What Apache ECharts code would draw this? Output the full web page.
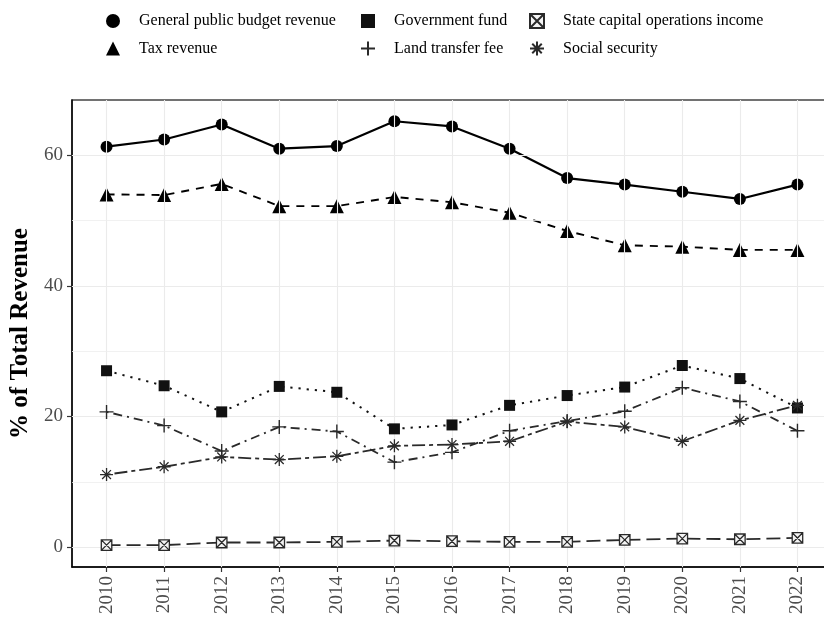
<!DOCTYPE html>
<html>
<head>
<meta charset="utf-8">
<script src="https://cdn.jsdelivr.net/npm/echarts@6/dist/echarts.min.js"></script>
<style>
html,body{margin:0;padding:0;background:#fff;}
#chart{width:824px;height:617px;}
</style>
</head>
<body>
<div id="chart"></div>
<script>
// ---- data ----
const years = [2010, 2011, 2012, 2013, 2014, 2015, 2016, 2017, 2018, 2019, 2020, 2021, 2022];
const generalBudget   = [61.3, 62.4, 64.7, 61.0, 61.4, 65.2, 64.4, 61.0, 56.5, 55.5, 54.4, 53.3, 55.5];
const taxRevenue      = [54.0, 53.9, 55.6, 52.2, 52.2, 53.6, 52.8, 51.2, 48.4, 46.2, 46.0, 45.5, 45.5];
const governmentFund  = [27.0, 24.7, 20.7, 24.6, 23.7, 18.1, 18.7, 21.7, 23.2, 24.5, 27.8, 25.8, 21.3];
const landTransferFee = [20.7, 18.6, 14.7, 18.4, 17.7, 13.0, 14.5, 17.8, 19.3, 20.8, 24.4, 22.3, 17.8];
const stateCapital    = [0.3, 0.3, 0.7, 0.7, 0.8, 1.0, 0.9, 0.8, 0.8, 1.1, 1.3, 1.2, 1.4];
const socialSecurity  = [11.1, 12.3, 13.8, 13.4, 13.9, 15.5, 15.7, 16.2, 19.2, 18.4, 16.2, 19.4, 21.7];
const yTickValues = [0, 20, 40, 60];
const yMinorValues = [10, 30, 50];
const seriesNames = ['General public budget revenue', 'Tax revenue', 'Government fund',
  'Land transfer fee', 'State capital operations income', 'Social security'];

const PLUS = 'path://M5,0L5,10M0,5L10,5';
const ASTER = 'path://M5,0L5,10M0,5L10,5M1.6,1.6L8.4,8.4M8.4,1.6L1.6,8.4';
const SQX = 'path://M0,0L10,0L10,10L0,10ZM0,0L10,10M10,0L0,10';

function pairs(vals) { return years.map((y, i) => [y, vals[i]]); }

const serif = '"Liberation Serif", "DejaVu Serif", serif';

const defs = [
  { name: seriesNames[0], data: generalBudget, symbol: 'circle', size: 12, color: '#000', lw: 2.2, type: 'solid', fill: '#000', bw: 0 },
  { name: seriesNames[1], data: taxRevenue, symbol: 'triangle', size: 14, color: '#000', lw: 1.9, type: [8, 7], fill: '#000', bw: 0 },
  { name: seriesNames[2], data: governmentFund, symbol: 'rect', size: 11, color: '#111', lw: 2, type: [2.2, 6], fill: '#111', bw: 0 },
  { name: seriesNames[3], data: landTransferFee, symbol: PLUS, size: 14, color: '#2a2a2a', lw: 1.8, type: [2, 5, 9, 5], fill: 'transparent', bw: 1.4 },
  { name: seriesNames[4], data: stateCapital, symbol: SQX, size: 10.5, color: '#2a2a2a', lw: 1.8, type: [14, 6], fill: '#f4f4f4', bw: 1.3 },
  { name: seriesNames[5], data: socialSecurity, symbol: ASTER, size: 13, color: '#2a2a2a', lw: 1.8, type: [4, 4, 13, 4], fill: 'transparent', bw: 1.3 }
];

const gridLineStyle = { color: '#ebebeb', width: 1.1, type: 'solid' };
const gridSeries = {
  type: 'line', data: [], z: 1, silent: true,
  markLine: {
    silent: true, symbol: 'none', label: { show: false }, animation: false,
    lineStyle: gridLineStyle,
    data: years.map(y => ({ xAxis: y }))
      .concat(yTickValues.map(v => ({ yAxis: v })))
      .concat(yMinorValues.map(v => ({ yAxis: v, lineStyle: { color: '#ededed', width: 0.8 } })))
  }
};

const dataSeries = defs.map((d, i) => ({
  name: d.name,
  type: 'line',
  z: 3 + i,
  data: pairs(d.data),
  symbol: d.symbol,
  symbolSize: d.size,
  showAllSymbol: true,
  animation: false,
  lineStyle: { color: d.color, width: d.lw, type: d.type },
  itemStyle: { color: d.fill, borderColor: d.color, borderWidth: d.bw, opacity: 1 }
}));

function legendCol(left, names, icons) {
  return {
    orient: 'vertical', left: left, top: 8,
    itemWidth: 14, itemHeight: 14, itemGap: 11.5,
    symbolKeepAspect: true,
    textStyle: { fontFamily: serif, fontSize: 16, color: '#000', padding: [0, 0, 0, 14] },
    data: names.map((n, k) => ({ name: n, icon: icons[k] })),
    selectedMode: false
  };
}

const chart = echarts.init(document.getElementById('chart'), null, { renderer: 'canvas' });
chart.setOption({
  backgroundColor: '#fff',
  animation: false,
  legend: [
    legendCol(101, [seriesNames[0], seriesNames[1]], ['circle', 'triangle']),
    legendCol(355, [seriesNames[2], seriesNames[3]], ['rect', PLUS]),
    legendCol(524, [seriesNames[4], seriesNames[5]], [SQX, ASTER])
  ],
  grid: {
    left: 72, top: 100, bottom: 50, width: 760,
    containLabel: false, outerBoundsMode: 'none',
    show: true, backgroundColor: '#fff', borderColor: '#444', borderWidth: 1.3
  },
  xAxis: {
    type: 'value', min: 2009.4, max: 2022.6,
    axisLine: { show: true, onZero: false, lineStyle: { color: '#000', width: 1.5 } },
    axisTick: { show: true, length: 5, customValues: years, lineStyle: { color: '#333', width: 1.2 } },
    axisLabel: {
      show: true, customValues: years, rotate: 90, margin: 9,
      formatter: v => String(v),
      fontFamily: serif, fontSize: 19, color: '#4d4d4d'
    },
    splitLine: { show: false }
  },
  yAxis: {
    type: 'value', min: -3.05, max: 68.45,
    name: '% of Total Revenue', nameLocation: 'middle', nameGap: 38,
    nameTextStyle: { fontFamily: serif, fontSize: 25, fontWeight: 'bold', color: '#000' },
    axisLine: { show: true, onZero: false, lineStyle: { color: '#000', width: 1.5 } },
    axisTick: { show: true, length: 5, customValues: yTickValues, lineStyle: { color: '#333', width: 1.2 } },
    axisLabel: {
      show: true, customValues: yTickValues, margin: 9,
      formatter: v => String(v),
      fontFamily: serif, fontSize: 19, color: '#4d4d4d'
    },
    splitLine: { show: false }
  },
  series: [gridSeries].concat(dataSeries)
});
</script>
</body>
</html>
